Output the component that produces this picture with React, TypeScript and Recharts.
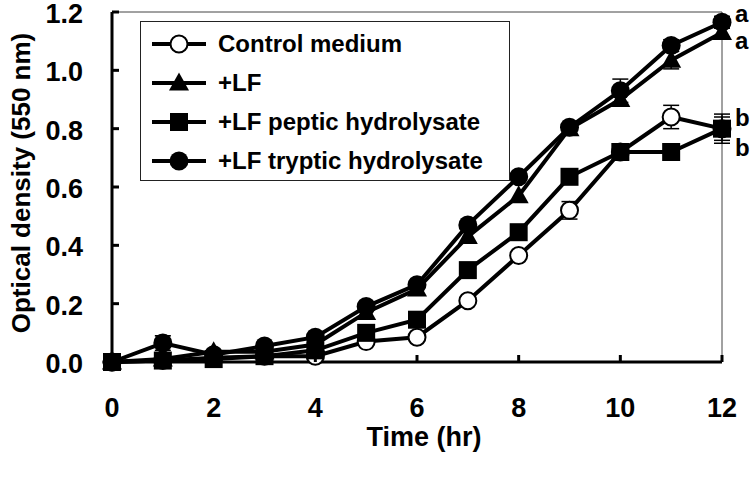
import React from "react";
import { LineChart, Line, XAxis, YAxis, ErrorBar, ReferenceLine, ReferenceDot, Legend } from "recharts";

const FONT = '"Liberation Sans", Arial, sans-serif';

const hours = [0, 1, 2, 3, 4, 5, 6, 7, 8, 9, 10, 11, 12];
const control = [0, 0.005, 0.015, 0.02, 0.02, 0.07, 0.085, 0.21, 0.365, 0.52, 0.72, 0.84, 0.8];
const lf = [0, 0.01, 0.035, 0.035, 0.06, 0.17, 0.25, 0.43, 0.57, 0.8, 0.9, 1.035, 1.13];
const peptic = [0, 0.005, 0.01, 0.02, 0.04, 0.1, 0.145, 0.315, 0.445, 0.635, 0.72, 0.72, 0.8];
const tryptic = [0, 0.065, 0.025, 0.055, 0.085, 0.19, 0.265, 0.47, 0.635, 0.805, 0.93, 1.085, 1.165];

const controlErr = [0, 0, 0, 0, 0, 0, 0, 0, 0, 0.03, 0, 0.04, 0.04];
const lfErr = [0, 0, 0, 0, 0, 0, 0, 0, 0, 0, 0, 0.03, 0.015];
const pepticErr = [0, 0, 0, 0, 0, 0, 0, 0, 0, 0, 0, 0, 0.05];
const trypticErr = [0, 0.025, 0, 0, 0, 0, 0, 0, 0, 0, 0.04, 0.02, 0.02];

const yTicks = [0, 0.2, 0.4, 0.6, 0.8, 1.0, 1.2];
const xTicks = [0, 2, 4, 6, 8, 10, 12];

const seriesNames = ["Control medium", "+LF", "+LF peptic hydrolysate", "+LF tryptic hydrolysate"];
const seriesShapes = ["open", "triangle", "square", "circle"];

// significance letters next to the 12 h points
const sigLabels = [
  { y: 1.165, letter: "a", dy: -9 },
  { y: 1.13, letter: "a", dy: 8 },
  { y: 0.8, letter: "b", dy: -12 },
  { y: 0.8, letter: "b", dy: 18 },
];

const data = hours.map((t, i) => ({
  t,
  control: control[i],
  controlErr: controlErr[i],
  lf: lf[i],
  lfErr: lfErr[i],
  peptic: peptic[i],
  pepticErr: pepticErr[i],
  tryptic: tryptic[i],
  trypticErr: trypticErr[i],
}));

function Marker({ shape, cx, cy }: { shape: string; cx: number; cy: number }) {
  if (shape === "open")
    return <circle cx={cx} cy={cy} r={8.5} fill="#fff" stroke="#000" strokeWidth={2} />;
  if (shape === "triangle")
    return <polygon points={`${cx},${cy - 10.5} ${cx + 10},${cy + 7.5} ${cx - 10},${cy + 7.5}`} fill="#000" />;
  if (shape === "square")
    return <rect x={cx - 9} y={cy - 9} width={18} height={18} fill="#000" />;
  return <circle cx={cx} cy={cy} r={9.5} fill="#000" />;
}

const dotFor = (shape: string) => (p: any) => (
  <Marker key={`${shape}-${p.index}`} shape={shape} cx={p.cx} cy={p.cy} />
);

const YTick = ({ x, y, payload }: any) => (
  <g>
    <line x1={x} x2={x + 7} y1={y} y2={y} stroke="#000" strokeWidth={3} />
    <text x={x - 29} y={y} dy={11} textAnchor="end" fontFamily={FONT} fontWeight="bold" fontSize={27} fill="#000">
      {Number(payload.value).toFixed(1)}
    </text>
  </g>
);

const XTick = ({ x, y, payload }: any) => (
  <g>
    <line x1={x} x2={x} y1={y} y2={y - 7} stroke="#000" strokeWidth={3} />
    <text x={x} y={y + 55} textAnchor="middle" fontFamily={FONT} fontWeight="bold" fontSize={27} fill="#000">
      {payload.value}
    </text>
  </g>
);

function LegendBox() {
  return (
    <div
      style={{
        width: 368,
        height: 156,
        border: "1px solid #222",
        background: "#fff",
        boxSizing: "content-box",
        paddingTop: 2,
      }}
    >
      {seriesNames.map((name, i) => (
        <div key={name} style={{ display: "flex", alignItems: "center", height: 39 }}>
          <svg width={66} height={24} style={{ marginLeft: 11 }}>
            <line x1={0} x2={54} y1={12} y2={12} stroke="#000" strokeWidth={4} />
            <Marker shape={seriesShapes[i]} cx={27} cy={12} />
          </svg>
          <span style={{ fontFamily: FONT, fontWeight: "bold", fontSize: 24, color: "#000", whiteSpace: "nowrap" }}>
            {name}
          </span>
        </div>
      ))}
    </div>
  );
}

const SigLabel = ({ viewBox, letter, dy }: any) => (
  <text
    x={viewBox.x + 13}
    y={viewBox.y + dy + 9}
    fontFamily={FONT}
    fontWeight="bold"
    fontSize={24}
    fill="#000"
  >
    {letter}
  </text>
);

export default function App() {
  return (
    <div style={{ position: "absolute", left: 0, top: 0, width: 753, height: 480, background: "#fff" }}>
      <LineChart width={753} height={480} data={data} margin={{ top: 12, right: 31, left: 52, bottom: 68 }}>
        <XAxis
          dataKey="t"
          type="number"
          domain={[0, 12]}
          ticks={xTicks}
          height={50}
          tickSize={0}
          tickMargin={0}
          tickLine={false}
          axisLine={{ stroke: "#000", strokeWidth: 3 }}
          tick={<XTick />}
        />
        <YAxis
          type="number"
          domain={[0, 1.2]}
          ticks={yTicks}
          width={60}
          tickSize={0}
          tickMargin={0}
          tickLine={false}
          axisLine={{ stroke: "#000", strokeWidth: 3 }}
          tick={<YTick />}
        />
        <ReferenceLine y={1.2} stroke="#444" strokeWidth={1} />
        <ReferenceLine x={12} stroke="#444" strokeWidth={1} />
        <Legend
          layout="horizontal"
          verticalAlign="middle"
          align="center"
          content={<LegendBox />}
          wrapperStyle={{ position: "absolute", left: 140, top: 21, width: 370 }}
        />
        <Line dataKey="control" name={seriesNames[0]} stroke="#000" strokeWidth={4} isAnimationActive={false} dot={dotFor("open")}>
          <ErrorBar dataKey="controlErr" width={8} stroke="#000" strokeWidth={1.5} direction="y" />
        </Line>
        <Line dataKey="lf" name={seriesNames[1]} stroke="#000" strokeWidth={4} isAnimationActive={false} dot={dotFor("triangle")}>
          <ErrorBar dataKey="lfErr" width={8} stroke="#000" strokeWidth={1.5} direction="y" />
        </Line>
        <Line dataKey="peptic" name={seriesNames[2]} stroke="#000" strokeWidth={4} isAnimationActive={false} dot={dotFor("square")}>
          <ErrorBar dataKey="pepticErr" width={8} stroke="#000" strokeWidth={1.5} direction="y" />
        </Line>
        <Line dataKey="tryptic" name={seriesNames[3]} stroke="#000" strokeWidth={4} isAnimationActive={false} dot={dotFor("circle")}>
          <ErrorBar dataKey="trypticErr" width={8} stroke="#000" strokeWidth={1.5} direction="y" />
        </Line>
        {sigLabels.map((s, i) => (
          <ReferenceDot
            key={i}
            x={12}
            y={s.y}
            r={0}
            ifOverflow="visible"
            label={<SigLabel letter={s.letter} dy={s.dy} />}
          />
        ))}
        <text x={21} y={183} transform="rotate(-90 21 183)" textAnchor="middle" dominantBaseline="central" fontFamily={FONT} fontWeight="bold" fontSize={26} fill="#000">
          Optical density (550 nm)
        </text>
        <text x={424} y={446} textAnchor="middle" fontFamily={FONT} fontWeight="bold" fontSize={27} fill="#000">
          Time (hr)
        </text>
      </LineChart>
    </div>
  );
}
